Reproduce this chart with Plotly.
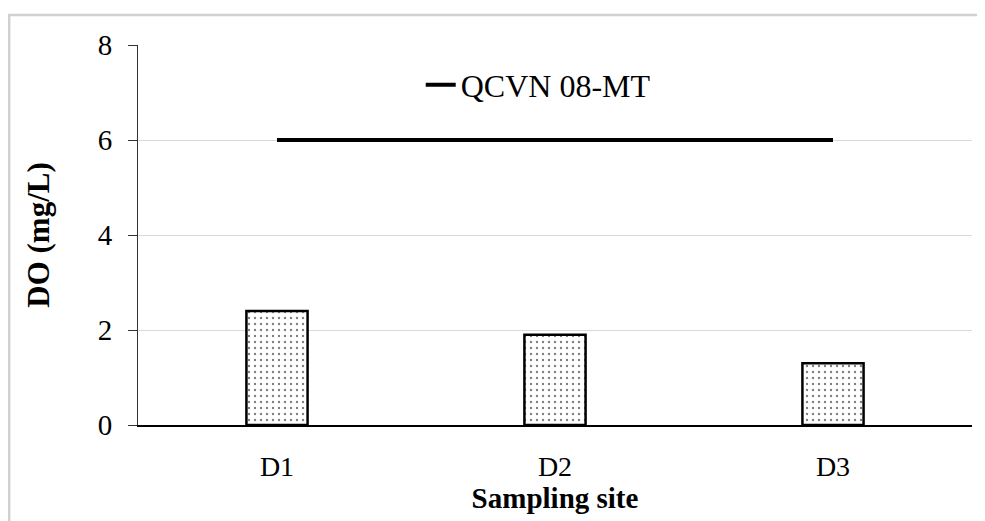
import plotly.graph_objects as go

sites = ["D1", "D2", "D3"]
do_values = [2.4, 1.9, 1.3]
qcvn_values = [6, 6, 6]
y_ticks = [0, 2, 4, 6, 8]

FONT = "Liberation Serif"

fig = go.Figure()
fig.add_trace(go.Bar(
    x=sites, y=do_values, showlegend=False,
    marker=dict(color="white", line=dict(color="black", width=2.5),
                pattern=dict(shape=".", fgcolor="black", bgcolor="white", size=6, solidity=0.12)),
    width=0.22,
))
fig.add_trace(go.Scatter(
    x=sites, y=qcvn_values, mode="lines", name="QCVN 08-MT",
    line=dict(color="black", width=4),
))

# page body has an 8px margin; margins are compensated so the plot area lands where the reference has it
fig.update_layout(
    width=985, height=521,
    margin=dict(l=130, r=21, t=37, b=104),
    paper_bgcolor="white", plot_bgcolor="white",
    font=dict(family=FONT, size=28, color="black"),
    legend=dict(x=0.339, y=0.895, xanchor="left", yanchor="middle",
                bgcolor="rgba(0,0,0,0)", font=dict(size=32, family=FONT)),
    xaxis=dict(
        title=dict(text="<b>Sampling site</b>", font=dict(size=29, family=FONT), standoff=4),
        showline=True, linecolor="black", linewidth=1.5, ticks="", tickfont=dict(size=28),
        showgrid=False, ticklabelstandoff=16,
    ),
    yaxis=dict(
        title=dict(text="<b>DO (mg/L)</b>", font=dict(size=31, family=FONT), standoff=38),
        range=[0, 8], tickvals=y_ticks, showline=True, linecolor="#333", linewidth=1,
        ticks="outside", ticklen=9, tickcolor="#333", ticklabelstandoff=10,
        showgrid=True, gridcolor="#d9d9d9", gridwidth=1, zeroline=False,
        tickfont=dict(size=29),
    ),
    shapes=[
        dict(type="line", xref="paper", yref="paper", x0=-0.156, x1=1.03, y0=1.0789, y1=1.0789,
             line=dict(color="#d0d0d0", width=2.5)),
        dict(type="line", xref="paper", yref="paper", x0=-0.1545, x1=-0.1545, y0=1.0789, y1=-0.3,
             line=dict(color="#d0d0d0", width=2.5)),
    ],
)

fig.write_html("out.html")
